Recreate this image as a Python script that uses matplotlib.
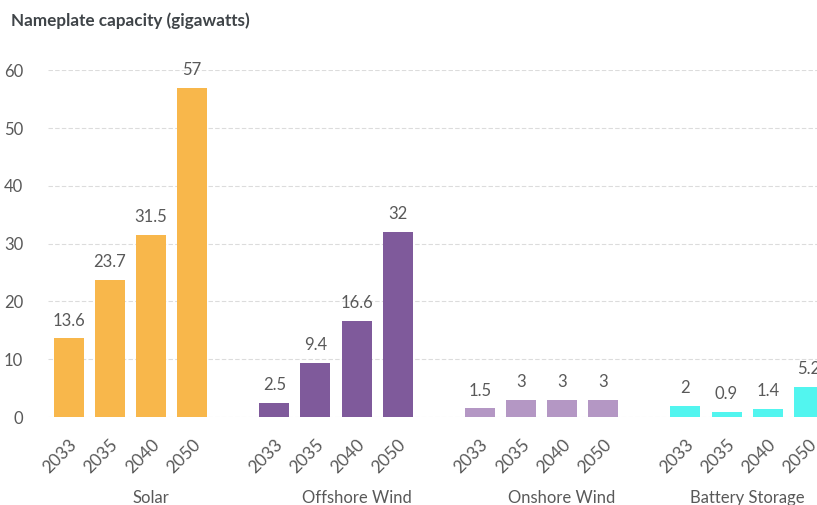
import matplotlib.pyplot as plt
import numpy as np

plt.rcParams['font.family'] = ['Lato', 'DejaVu Sans']

groups = ['Solar', 'Offshore Wind', 'Onshore Wind', 'Battery Storage']
years = ['2033', '2035', '2040', '2050']
solar = [13.6, 23.7, 31.5, 57]
offshore = [2.5, 9.4, 16.6, 32]
onshore = [1.5, 3, 3, 3]
battery = [2, 0.9, 1.4, 5.2]
series = [solar, offshore, onshore, battery]
colors = ['#F8B74B', '#7F5A9B', '#B497C4', '#52F5EF']
yticks = [0, 10, 20, 30, 40, 50, 60]

fig = plt.figure(figsize=(8.17, 5.05), dpi=100)
ax = fig.add_axes([0.059, 0.174, 0.941, 0.687])

text_c = '#595959'
xs_all = []
for gi, (vals, col) in enumerate(zip(series, colors)):
    xs = np.arange(len(vals)) + gi * 5
    xs_all.extend(xs)
    ax.bar(xs, vals, width=0.73, color=col, zorder=2)
    for x, v in zip(xs, vals):
        ax.annotate(f'{v:g}', (x, v), xytext=(0, 7), textcoords='offset points',
                    ha='center', va='bottom', fontsize=12, color=text_c,
                    annotation_clip=False)

ax.set_xlim(-0.5, 18.2)
ax.set_ylim(0, 60)
ax.set_yticks(yticks)
ax.set_xticks(xs_all)
ax.set_xticklabels(years * len(groups), rotation=45, ha='right',
                   rotation_mode='anchor')
ax.tick_params(axis='y', length=0, pad=18, labelsize=12, labelcolor=text_c)
ax.tick_params(axis='x', length=0, pad=14, labelsize=12.5, labelcolor=text_c)
ax.grid(axis='y', color='#dcdcdc', linestyle=(0, (4, 2)), linewidth=0.8, zorder=0)
for s in ax.spines.values():
    s.set_visible(False)

# group names under the year labels
group_x = [2.0, 7.0, 12.0, 16.5]
for gx, name in zip(group_x, groups):
    ax.text(gx, -13.9, name, ha='center', va='center', fontsize=12,
            color=text_c, transform=ax.transData, clip_on=False)

fig.text(0.013, 0.958, 'Nameplate capacity (gigawatts)', fontsize=12.3,
         fontweight='bold', color='#3F4448', va='center', ha='left')

fig.savefig('out.png', dpi=100)
